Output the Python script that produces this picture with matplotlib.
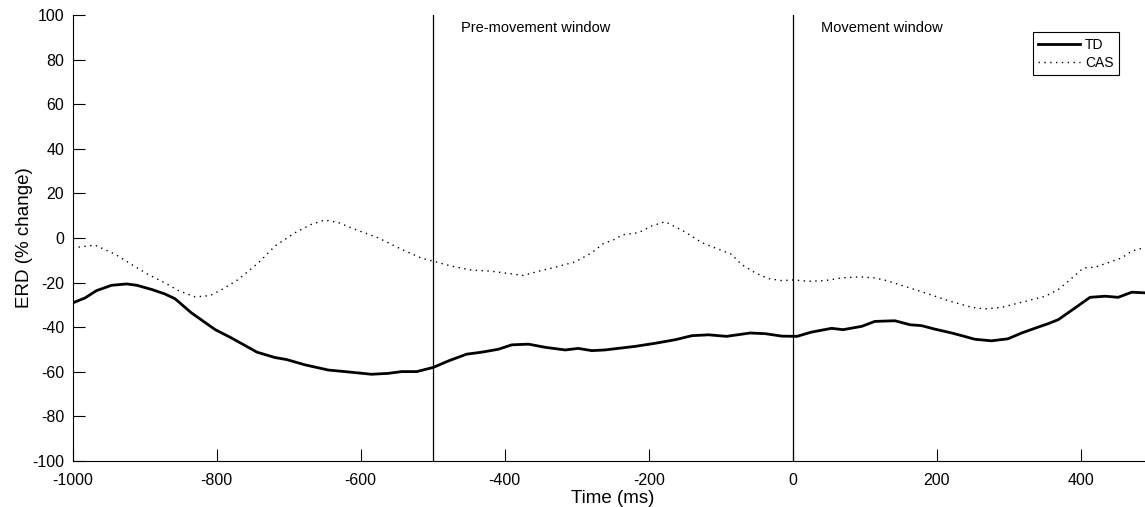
import matplotlib
matplotlib.use("Agg")
import matplotlib.pyplot as plt

plt.rcParams['font.family'] = ['Liberation Sans', 'DejaVu Sans']
plt.rcParams['axes.unicode_minus'] = False

# ERD curves (time in ms, % change)
td_time = [-1000, -983, -967, -946, -925, -911, -890, -872, -858, -835, -802, -779,
           -744, -719, -703, -677, -645, -622, -585, -562, -543, -522, -499, -478,
           -453, -432, -409, -390, -367, -344, -316, -298, -279, -261, -219, -191,
           -163, -140, -117, -92, -59, -38, -15, 6, 26, 54, 70, 96, 114, 142, 163,
           179, 198, 221, 235, 253, 276, 299, 318, 337, 355, 369, 392, 413, 434,
           452, 471, 490]
td_erd = [-29.1, -26.9, -23.6, -21.2, -20.6, -21.2, -23.1, -25.1, -27.2, -33.6, -41.1,
          -44.9, -51.2, -53.6, -54.5, -56.9, -59.2, -59.9, -61.1, -60.7, -59.9, -59.9,
          -58.0, -55.1, -52.1, -51.2, -49.9, -47.9, -47.6, -49.0, -50.2, -49.5, -50.5,
          -50.2, -48.6, -47.2, -45.6, -43.8, -43.4, -44.1, -42.6, -42.9, -44.0, -44.1,
          -42.2, -40.5, -41.1, -39.6, -37.4, -37.1, -38.9, -39.3, -40.9, -42.6, -43.8,
          -45.4, -46.1, -45.2, -42.6, -40.4, -38.4, -36.6, -31.4, -26.6, -26.1, -26.6,
          -24.3, -24.6]

cas_time = [-1000, -969, -941, -918, -895, -872, -853, -830, -809, -793, -770, -742,
            -719, -691, -668, -650, -630, -608, -576, -543, -515, -499, -474, -446,
            -418, -395, -374, -353, -330, -302, -279, -263, -247, -237, -214, -196,
            -177, -150, -126, -108, -85, -71, -52, -34, -15, 1, 22, 45, 68, 93, 114,
            128, 151, 184, 216, 249, 267, 290, 323, 351, 369, 387, 404, 420, 438,
            457, 471, 490]
cas_erd = [-4.4, -3.2, -7.3, -11.9, -16.4, -20.1, -23.6, -26.4, -25.8, -23.1, -18.6,
           -11.1, -3.6, 2.4, 6.2, 8.1, 6.8, 3.9, 0.1, -5.1, -9.1, -10.4, -12.6, -14.4,
           -14.9, -15.9, -16.8, -14.9, -13.1, -10.7, -6.6, -2.5, -0.6, 1.4, 2.4, 5.4,
           7.3, 2.8, -2.1, -4.4, -7.3, -11.9, -15.6, -18.2, -19.1, -18.8, -19.4, -19.1,
           -17.9, -17.4, -17.9, -18.9, -21.2, -24.6, -28.1, -31.1, -31.8, -31.1, -28.4,
           -26.1, -23.1, -18.2, -13.4, -13.1, -11.1, -8.9, -5.9, -4.1]

window_starts = [-500, 0]
window_labels = ['Pre-movement window', 'Movement window']
x_ticks = [-1000, -800, -600, -400, -200, 0, 200, 400]
y_ticks = [100, 80, 60, 40, 20, 0, -20, -40, -60, -80, -100]

fig = plt.figure(figsize=(11.45, 5.07), dpi=100)
ax = fig.add_axes([0.0635, 0.0907, 0.9432, 0.8797])

ax.plot(td_time, td_erd, color='black', linewidth=2.0, label='TD')
ax.plot(cas_time, cas_erd, color='black', linewidth=1.0,
        linestyle=(0, (1, 3.2)), label='CAS')

# window markers and their labels
for x0, txt in zip(window_starts, window_labels):
    ax.axvline(x0, color='black', linewidth=0.9)
    ax.text(x0 + 39, 94, txt, fontsize=10.5, ha='left', va='center')

ax.set_xlim(-1000, 500)
ax.set_ylim(-100, 100)
ax.set_xticks(x_ticks)
ax.set_yticks(y_ticks)

ax.spines['top'].set_visible(False)
ax.spines['right'].set_visible(False)
for s in ['left', 'bottom']:
    ax.spines[s].set_linewidth(0.8)

ax.tick_params(axis='both', direction='in', length=8.6, width=0.8,
               labelsize=11.5)
ax.tick_params(axis='y', pad=6)
ax.tick_params(axis='x', pad=8.5)

ax.set_xlabel('Time (ms)', fontsize=13.5)
ax.set_ylabel('ERD (% change)', fontsize=13.5)
ax.xaxis.set_label_coords(0.5, -0.065)
ax.yaxis.set_label_coords(-0.037, 0.5)

leg = ax.legend(loc='upper right', bbox_to_anchor=(1119 / 1145, 1 - 32 / 507),
                bbox_transform=fig.transFigure, fontsize=10, frameon=True,
                fancybox=False, framealpha=1, edgecolor='black',
                borderpad=0.4, labelspacing=0.3, handlelength=3.0,
                handletextpad=0.35, borderaxespad=0)
leg.get_frame().set_linewidth(0.8)

fig.savefig('out.png', dpi=100)
